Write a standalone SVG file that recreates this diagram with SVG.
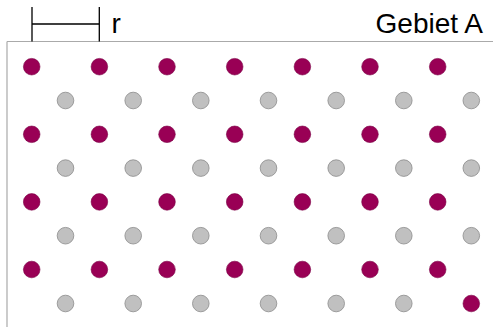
<svg xmlns="http://www.w3.org/2000/svg" width="493" height="327" viewBox="0 0 493 327">
<defs>
<style>
.border{fill:none;stroke:#aaaaaa;stroke-width:1.2}
.bar{fill:none;stroke:#000;stroke-width:1.3}
.lbl{font-family:"Liberation Sans",Arial,sans-serif;font-size:28px;fill:#000}
.r{fill:#990055;stroke:#7a0044;stroke-width:0.6}
.g{fill:#c0c0c0;stroke:#8a8a8a;stroke-width:0.8}
</style>
<circle id="red" r="8.3" class="r"/>
<circle id="gray" r="8.3" class="g"/>
</defs>
<rect width="493" height="327" fill="#fff"/>
<g id="area">
<path class="border" d="M7,41.5 H493 M7,41.5 V327"/>
<text class="lbl" x="483" y="32.5" text-anchor="end">Gebiet A</text>
</g>
<g id="scale">
<path class="bar" d="M32,7 V41.5 M99.3,7 V41.5 M32,24 H99.3"/>
<text class="lbl" x="111.5" y="33.3">r</text>
</g>
<g id="red-dots">
<use href="#red" x="31.7" y="66.7"/><use href="#red" x="99.4" y="66.7"/><use href="#red" x="167" y="66.7"/><use href="#red" x="234.7" y="66.7"/><use href="#red" x="302.4" y="66.7"/><use href="#red" x="370" y="66.7"/><use href="#red" x="437.7" y="66.7"/>
<use href="#red" x="31.7" y="134.3"/><use href="#red" x="99.4" y="134.3"/><use href="#red" x="167" y="134.3"/><use href="#red" x="234.7" y="134.3"/><use href="#red" x="302.4" y="134.3"/><use href="#red" x="370" y="134.3"/><use href="#red" x="437.7" y="134.3"/>
<use href="#red" x="31.7" y="201.9"/><use href="#red" x="99.4" y="201.9"/><use href="#red" x="167" y="201.9"/><use href="#red" x="234.7" y="201.9"/><use href="#red" x="302.4" y="201.9"/><use href="#red" x="370" y="201.9"/><use href="#red" x="437.7" y="201.9"/>
<use href="#red" x="31.7" y="269.5"/><use href="#red" x="99.4" y="269.5"/><use href="#red" x="167" y="269.5"/><use href="#red" x="234.7" y="269.5"/><use href="#red" x="302.4" y="269.5"/><use href="#red" x="370" y="269.5"/><use href="#red" x="437.7" y="269.5"/>
<use href="#red" x="471.3" y="303.5"/>
</g>
<g id="gray-dots">
<use href="#gray" x="65.5" y="100.5"/><use href="#gray" x="133.2" y="100.5"/><use href="#gray" x="200.8" y="100.5"/><use href="#gray" x="268.5" y="100.5"/><use href="#gray" x="336.2" y="100.5"/><use href="#gray" x="403.8" y="100.5"/><use href="#gray" x="471.3" y="100.5"/>
<use href="#gray" x="65.5" y="168.1"/><use href="#gray" x="133.2" y="168.1"/><use href="#gray" x="200.8" y="168.1"/><use href="#gray" x="268.5" y="168.1"/><use href="#gray" x="336.2" y="168.1"/><use href="#gray" x="403.8" y="168.1"/><use href="#gray" x="471.3" y="168.1"/>
<use href="#gray" x="65.5" y="235.7"/><use href="#gray" x="133.2" y="235.7"/><use href="#gray" x="200.8" y="235.7"/><use href="#gray" x="268.5" y="235.7"/><use href="#gray" x="336.2" y="235.7"/><use href="#gray" x="403.8" y="235.7"/><use href="#gray" x="471.3" y="235.7"/>
<use href="#gray" x="65.5" y="303.5"/><use href="#gray" x="133.2" y="303.5"/><use href="#gray" x="200.8" y="303.5"/><use href="#gray" x="268.5" y="303.5"/><use href="#gray" x="336.2" y="303.5"/><use href="#gray" x="403.8" y="303.5"/>
</g>
</svg>
